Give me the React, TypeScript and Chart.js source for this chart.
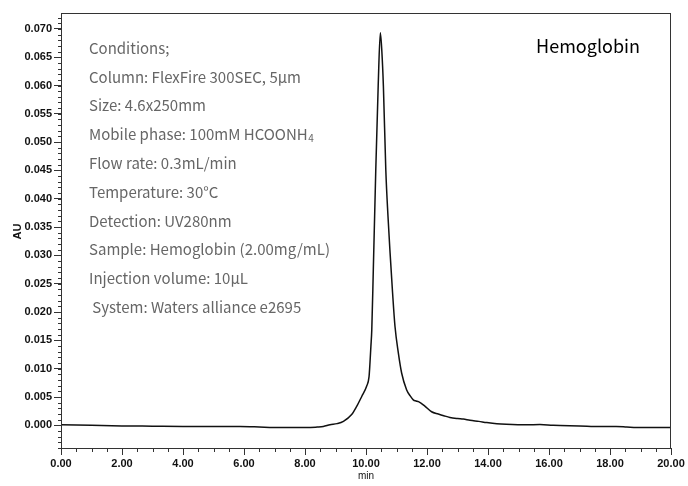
import React, { useEffect, useRef } from "react";
import { Chart, registerables } from "chart.js";

Chart.register(...registerables);

const times: number[] = [
  0, 1, 2, 3, 4, 5, 5.87, 6.5, 6.96, 7.5, 8.06, 8.4, 8.6, 8.82, 9.05, 9.26, 9.53, 9.69, 9.86, 10.02, 10.1,
  10.13, 10.16, 10.19, 10.24, 10.32, 10.4, 10.47, 10.52, 10.57, 10.65, 10.72, 10.79, 10.87, 10.95, 11.06,
  11.17, 11.33, 11.45, 11.55, 11.64, 11.72, 11.93, 12.15, 12.37, 12.55, 12.75, 13.0, 13.19,
  13.41, 13.7, 13.96, 14.29, 14.6, 15.27, 15.7, 16.14, 17.0, 17.67, 18.2, 18.55, 18.87, 20,
];
const absorbance: number[] = [
  0.0001, 0.0, -0.0001, -0.00015, -0.0002, -0.0002, -0.0002, -0.0003, -0.0004, -0.0004, -0.0004, -0.0003,
  -0.0002, 0.0001, 0.0003, 0.0007, 0.0019, 0.0033, 0.0051, 0.0069, 0.0086, 0.011, 0.0139, 0.0169, 0.0275,
  0.045, 0.06, 0.0693, 0.066, 0.0599, 0.045, 0.037, 0.0304, 0.0235, 0.0175, 0.0128, 0.0092, 0.0063, 0.0052,
  0.0045, 0.0043, 0.0042, 0.0034, 0.0024, 0.002, 0.0017, 0.0014, 0.0012, 0.0011, 0.0009,
  0.0007, 0.0005, 0.0003, 0.0002, 0.0001, 0.00015, 0.0, -0.0001, -0.0002, -0.0002, -0.0003, -0.0004,
  -0.0004,
];

const xMajorTicks: number[] = [0, 2, 4, 6, 8, 10, 12, 14, 16, 18, 20];
const xMinorStep = 0.5;
const yMajorTicks: number[] = [
  0, 0.005, 0.01, 0.015, 0.02, 0.025, 0.03, 0.035, 0.04, 0.045, 0.05, 0.055, 0.06, 0.065, 0.07,
];
const yMinorStep = 0.001;

const conditionLines: [string, string][] = [
  ["Conditions;", ""],
  ["Column: FlexFire 300SEC, 5μm", ""],
  ["Size: 4.6x250mm", ""],
  ["Mobile phase: 100mM HCOONH", "4"],
  ["Flow rate: 0.3mL/min", ""],
  ["Temperature: 30°C", ""],
  ["Detection: UV280nm", ""],
  ["Sample: Hemoglobin (2.00mg/mL)", ""],
  ["Injection volume: 10μL", ""],
  [" System: Waters alliance e2695", ""],
];
const sampleTitle = "Hemoglobin";
const xTitle = "min";
const yTitle = "AU";

const X_MIN = 0;
const X_MAX = 20;
const Y_MIN = -0.004;
const Y_MAX = 0.0728;

const TICK_FONT = '"Liberation Sans", Arial, sans-serif';
const TEXT_FONT = '"Noto Sans CJK JP", sans-serif';

const decorPlugin = {
  id: "decor",
  afterDraw(chart: any) {
    const ctx = chart.ctx;
    const { left, right, top, bottom } = chart.chartArea;
    const xs = chart.scales.x;
    const ys = chart.scales.y;
    ctx.save();
    // frame
    ctx.strokeStyle = "#333";
    ctx.lineWidth = 1;
    ctx.strokeRect(left + 0.5, top + 0.5, right - left - 1, bottom - top);
    // minor ticks
    ctx.beginPath();
    for (let v = X_MIN; v <= X_MAX + 1e-9; v += xMinorStep) {
      const px = Math.round(xs.getPixelForValue(v)) + 0.5;
      ctx.moveTo(px, bottom);
      ctx.lineTo(px, bottom + 4);
    }
    for (let k = Math.ceil(Y_MIN / yMinorStep); k * yMinorStep <= Y_MAX; k++) {
      const py = Math.round(ys.getPixelForValue(k * yMinorStep)) + 0.5;
      ctx.moveTo(left, py);
      ctx.lineTo(left - 3, py);
    }
    ctx.stroke();
    // axis titles
    ctx.fillStyle = "#111";
    ctx.font = `10px ${TICK_FONT}`;
    ctx.textAlign = "center";
    ctx.textBaseline = "middle";
    ctx.fillText(xTitle, (left + right) / 2, 476);
    ctx.save();
    ctx.translate(18, (top + bottom) / 2 + 1);
    ctx.rotate(-Math.PI / 2);
    ctx.font = `bold 11px ${TICK_FONT}`;
    ctx.fillText(yTitle, 0, 0);
    ctx.restore();
    // conditions text
    ctx.textAlign = "left";
    ctx.textBaseline = "middle";
    ctx.fillStyle = "#666";
    const tx = left + 28;
    conditionLines.forEach(([main, sub], i) => {
      const ty = top + 35 + i * 28.8;
      ctx.font = `15px ${TEXT_FONT}`;
      ctx.fillText(main, tx, ty);
      if (sub) {
        const w = ctx.measureText(main).width;
        ctx.font = `10px ${TEXT_FONT}`;
        ctx.fillText(sub, tx + w + 0.5, ty + 4);
      }
    });
    // sample title
    ctx.fillStyle = "#000";
    ctx.textAlign = "right";
    ctx.font = `18px ${TEXT_FONT}`;
    ctx.fillText(sampleTitle, right - 31, top + 33);
    ctx.restore();
  },
};

export default function App() {
  const canvasRef = useRef<HTMLCanvasElement | null>(null);

  useEffect(() => {
    if (!canvasRef.current) return;
    const data = times.map((t, i) => ({ x: t, y: absorbance[i] }));
    const chart = new Chart(canvasRef.current, {
      type: "line",
      data: {
        datasets: [
          {
            data,
            borderColor: "#111",
            borderWidth: 1.5,
            pointRadius: 0,
            fill: false,
            cubicInterpolationMode: "monotone",
          },
        ],
      },
      options: {
        responsive: false,
        animation: false,
        layout: { padding: { top: 13, right: 17, left: 0, bottom: 0 } },
        plugins: { legend: { display: false }, tooltip: { enabled: false } },
        scales: {
          x: {
            type: "linear",
            min: X_MIN,
            max: X_MAX,
            afterBuildTicks: (scale: any) => {
              scale.ticks = xMajorTicks.map((v) => ({ value: v }));
            },
            afterFit: (scale: any) => {
              scale.height = 38;
            },
            border: { display: false },
            grid: { drawOnChartArea: false, tickLength: 7, color: "#333", tickColor: "#333" },
            ticks: {
              color: "#111",
              padding: 2,
              maxRotation: 0,
              font: { family: TICK_FONT, size: 11, weight: "bold" },
              callback: (v: any) => Number(v).toFixed(2),
            },
          },
          y: {
            type: "linear",
            min: Y_MIN,
            max: Y_MAX,
            afterBuildTicks: (scale: any) => {
              scale.ticks = yMajorTicks.map((v) => ({ value: v }));
            },
            afterFit: (scale: any) => {
              scale.width = 61;
            },
            border: { display: false },
            grid: { drawOnChartArea: false, tickLength: 7, color: "#333", tickColor: "#333" },
            ticks: {
              color: "#111",
              padding: 2,
              font: { family: TICK_FONT, size: 11, weight: "bold" },
              callback: (v: any) => Number(v).toFixed(3),
            },
          },
        },
      },
      plugins: [decorPlugin],
    } as any);
    return () => chart.destroy();
  }, []);

  return (
    <div style={{ position: "fixed", left: 0, top: 0, width: 688, height: 486, background: "#fff" }}>
      <canvas ref={canvasRef} width={688} height={486} style={{ width: 688, height: 486 }} />
    </div>
  );
}
